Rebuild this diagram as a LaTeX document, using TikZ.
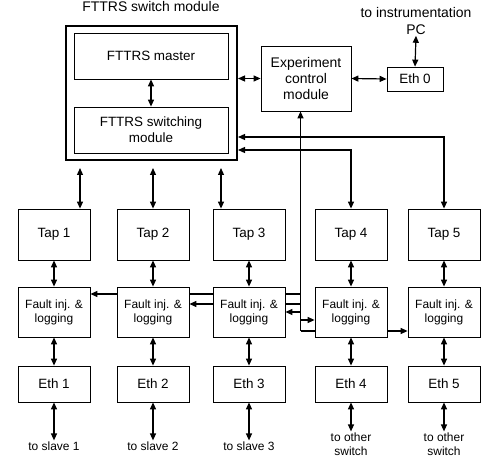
\documentclass[tikz,border=0pt]{standalone}
\usepackage{fontspec}
\setmainfont{Liberation Sans}
\usetikzlibrary{arrows.meta}
\usetikzlibrary{backgrounds}

\begin{document}
\begin{tikzpicture}[x=1bp,y=-1bp,
	box/.style={draw,line width=0.8bp,fill=white,align=center,inner sep=1bp,font=\fontsize{13.5}{16}\selectfont},
	tapbox/.style={box,minimum width=72bp,minimum height=51bp},
	faultbox/.style={box,minimum width=72bp,minimum height=50bp,font=\fontsize{12}{14}\selectfont},
	ethbox/.style={box,minimum width=72bp,minimum height=36bp},
	lbl/.style={align=center,inner sep=1bp,font=\fontsize{12}{14}\selectfont},
	link/.style={line width=1.2bp,{Triangle[length=7bp,width=6bp]}-{Triangle[length=7bp,width=6bp]}},
	feed/.style={line width=1.2bp,-{Triangle[length=7bp,width=6bp]}}]
	\useasboundingbox (0,0) rectangle (485,458);

	% switch module
	\node[lbl,font=\fontsize{14}{16}\selectfont] (title) at (151,7) {FTTRS switch module};
	\node[draw,line width=2bp,minimum width=171bp,minimum height=134bp] (sw) at (151.5,93) {};
	\node[box,minimum width=154bp,minimum height=46bp] (master) at (151,56) {FTTRS master};
	\node[box,minimum width=154bp,minimum height=46bp] (swmod) at (151,130) {FTTRS switching\\module};

	% control side
	\node[box,minimum width=90bp,minimum height=65bp,font=\fontsize{14}{16.5}\selectfont] (ecm) at (306,78.5) {Experiment\\control\\module};
	\node[box,minimum width=56bp,minimum height=24bp] (eth0) at (415,79) {Eth 0};
	\node[lbl,font=\fontsize{14}{17}\selectfont] (pc) at (416,21) {to instrumentation\\PC};

	% taps
	\node[tapbox] (tap1) at (54,234.5) {Tap 1};
	\node[tapbox] (tap2) at (153,234.5) {Tap 2};
	\node[tapbox] (tap3) at (249,234.5) {Tap 3};
	\node[tapbox] (tap4) at (351,234.5) {Tap 4};
	\node[tapbox] (tap5) at (444,234.5) {Tap 5};

	% fault injection
	\node[faultbox] (fault1) at (54,312) {Fault inj. \&\\logging};
	\node[faultbox] (fault2) at (153,312) {Fault inj. \&\\logging};
	\node[faultbox] (fault3) at (249,312) {Fault inj. \&\\logging};
	\node[faultbox] (fault4) at (351,312) {Fault inj. \&\\logging};
	\node[faultbox] (fault5) at (444,312) {Fault inj. \&\\logging};

	% ethernet ports
	\node[ethbox] (eth1) at (54,384) {Eth 1};
	\node[ethbox] (eth2) at (153,384) {Eth 2};
	\node[ethbox] (eth3) at (249,384) {Eth 3};
	\node[ethbox] (eth4) at (351,384) {Eth 4};
	\node[ethbox] (eth5) at (444,384) {Eth 5};

	\node[lbl] (out1) at (54,446) {to slave 1};
	\node[lbl] (out2) at (153,446) {to slave 2};
	\node[lbl] (out3) at (249,446) {to slave 3};
	\node[lbl] (out4) at (351,444) {to other\\switch};
	\node[lbl] (out5) at (444,444) {to other\\switch};

	\coordinate (up1) at (80,168);
	\coordinate (up2) at (153,168);
	\coordinate (up3) at (221,168);
	\coordinate (c4) at (351,150);
	\coordinate (c5) at (444,137);
	\coordinate (bus) at (300.5,331);

	\begin{scope}[on background layer]
	\draw[link] (master) -- (swmod);
	\draw[link] (ecm.west) -- (ecm.west -| sw.east);
	\draw[link] (ecm.east) -- (eth0.west);
	\draw[link] (eth0.north) -- (pc.south);

	\draw[link] (up1) -- (up1 |- tap1.north);
	\draw[link] (up2) -- (up2 |- tap2.north);
	\draw[link] (up3) -- (up3 |- tap3.north);
	\draw[link] (tap4.north) -- (c4) -- (c4 -| sw.east);
	\draw[link] (tap5.north) -- (c5) -- (c5 -| sw.east);

	\draw[link] (tap1) -- (fault1);
	\draw[link] (tap2) -- (fault2);
	\draw[link] (tap3) -- (fault3);
	\draw[link] (tap4) -- (fault4);
	\draw[link] (tap5) -- (fault5);

	\draw[link] (fault1) -- (eth1);
	\draw[link] (fault2) -- (eth2);
	\draw[link] (fault3) -- (eth3);
	\draw[link] (fault4) -- (eth4);
	\draw[link] (fault5) -- (eth5);

	\draw[link] (eth1) -- (out1);
	\draw[link] (eth2) -- (out2);
	\draw[link] (eth3) -- (out3);
	\draw[link] (eth4) -- (out4);
	\draw[link] (eth5) -- (out5);

	% control bus
	\draw[feed] (bus) -- (bus |- ecm.south);
	\draw[feed] (bus |- 0,294) -- (fault1.east |- 0,294);
	\draw[feed] (bus |- 0,304) -- (fault2.east |- 0,304);
	\draw[feed] (bus |- 0,312) -- (fault3.east);
	\draw[feed] (bus |- 0,320) -- (fault4.west |- 0,320);
	\draw[feed] (bus) -- (fault5.west |- bus);
	\end{scope}
\end{tikzpicture}
\end{document}
